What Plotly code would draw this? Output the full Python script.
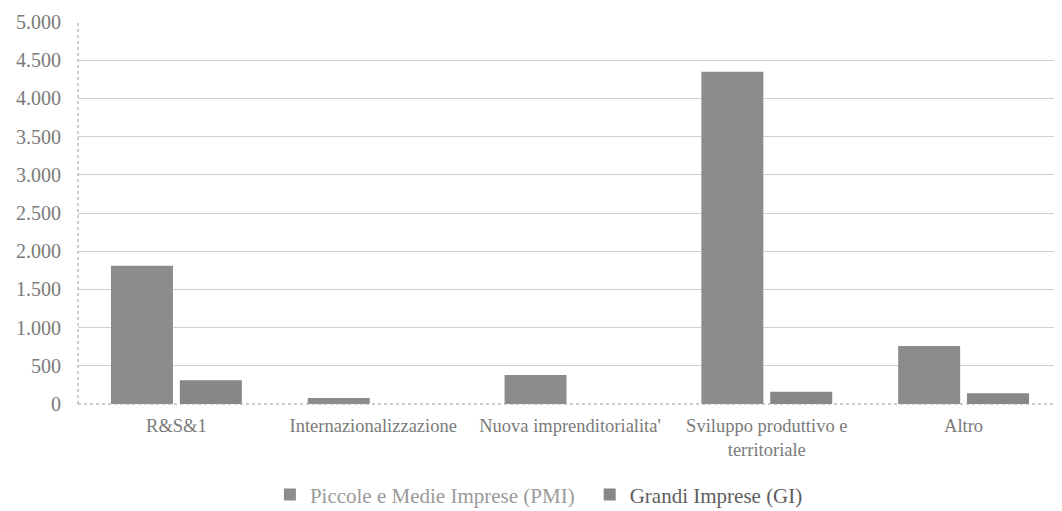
import plotly.graph_objects as go

# Categories and values
categories = ["R&S&1", "Internazionalizzazione", "Nuova imprenditorialita'",
              "Sviluppo produttivo e<br>territoriale", "Altro"]
pmi_values = [1810, 80, 380, 4350, 760]
gi_values = [310, 0, 0, 160, 140]

y_ticks = [0, 500, 1000, 1500, 2000, 2500, 3000, 3500, 4000, 4500, 5000]
y_labels = ["0", "500", "1.000", "1.500", "2.000", "2.500", "3.000",
            "3.500", "4.000", "4.500", "5.000"]

fig = go.Figure()

# Small and medium firms
fig.add_trace(go.Bar(
    x=categories, y=pmi_values, name="Piccole e Medie Imprese (PMI)",
    marker=dict(color="#8c8c8c", line=dict(width=0)),
    legend="legend"
))

# Large firms
fig.add_trace(go.Bar(
    x=categories, y=gi_values, name="Grandi Imprese (GI)",
    marker=dict(color="#878787", line=dict(width=0)),
    legend="legend2"
))

# page body has an 8px margin, so the figure is a bit smaller than the window
fig.update_layout(
    width=1054, height=503,
    margin=dict(l=70, r=0, t=14, b=107, autoexpand=False),
    paper_bgcolor="white", plot_bgcolor="white",
    barmode="group", bargap=0.3, bargroupgap=0.1,
    font=dict(family="Liberation Serif", color="#7a7a7a", size=15),
    showlegend=True,
    # two legends so the second label can be darker, like the original
    legend=dict(orientation="h", x=0.195, xanchor="left", y=-0.238, yanchor="middle",
                font=dict(size=21, color="#9a9a9a"), itemwidth=30,
                bgcolor="rgba(0,0,0,0)"),
    legend2=dict(orientation="h", x=0.52, xanchor="left", y=-0.238, yanchor="middle",
                 font=dict(size=21, color="#5e5e5e"), itemwidth=30,
                 bgcolor="rgba(0,0,0,0)"),
)

fig.update_yaxes(range=[0, 5000], tickvals=y_ticks, ticktext=y_labels,
                 showgrid=True, gridcolor="#cfcfcf", gridwidth=1,
                 zeroline=False, showline=False, ticklabelstandoff=16,
                 automargin=False,
                 tickfont=dict(size=20, color="#7a7a7a"))
fig.update_xaxes(showgrid=False, showline=False, automargin=False,
                 ticklabelstandoff=8,
                 tickfont=dict(size=18.5, color="#7a7a7a"))

# dotted axis lines like the original
fig.add_shape(type="line", xref="x domain", yref="y domain", x0=0, x1=0, y0=0, y1=1,
              line=dict(color="#9a9a9a", width=1, dash="dot"))
fig.add_shape(type="line", xref="x domain", yref="y domain", x0=0, x1=1, y0=0, y1=0,
              line=dict(color="#9a9a9a", width=1, dash="dot"))

fig.write_html("out.html")
